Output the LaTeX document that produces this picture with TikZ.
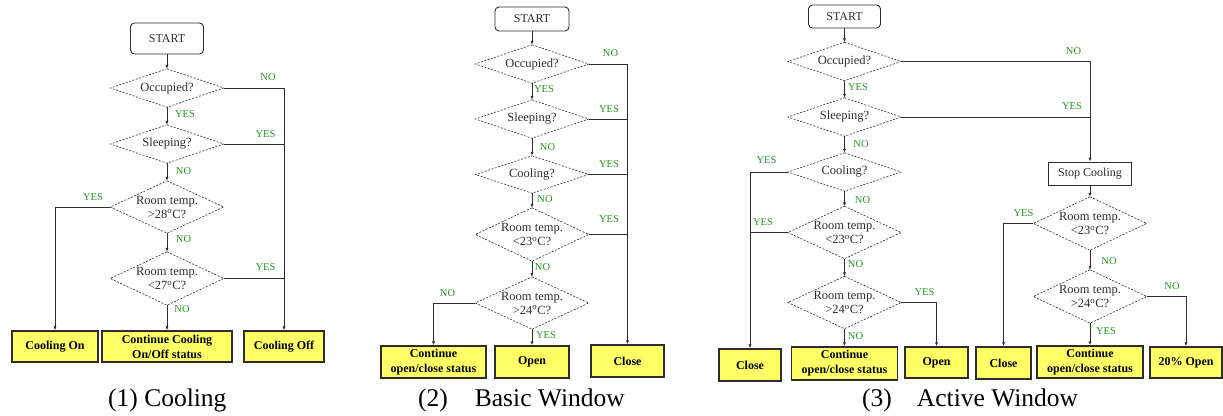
\documentclass[tikz,border=0pt]{standalone}
\usepackage{fontspec}
\setmainfont{Liberation Serif}
\usetikzlibrary{arrows.meta}
\definecolor{labgreen}{RGB}{34,150,34}
\definecolor{boxyellow}{RGB}{255,255,102}
\definecolor{ink}{RGB}{45,45,45}

\tikzset{
  wh/.style 2 args={minimum width=#1pt, minimum height=#2pt},
  startbox/.style={draw=ink, rounded corners=4pt, line width=0.9pt, fill=white,
    font=\fontsize{12}{14}\selectfont, text=ink, inner sep=0pt},
  actbox/.style={draw=ink, line width=1pt, fill=white,
    font=\fontsize{12}{14}\selectfont, text=ink, inner sep=0pt},
  decision/.style={inner sep=0pt, align=center, text=ink,
    font=\fontsize{12.5}{14}\selectfont},
  decisionline/.style={draw=ink, dash pattern=on 2pt off 1.5pt, line width=0.6pt},
  outbox/.style={draw=ink, line width=1.4pt, fill=boxyellow, align=center,
    inner sep=0pt, font=\bfseries\fontsize{12}{15}\selectfont},
  yn/.style={text=labgreen, inner sep=0pt, font=\fontsize{10.5}{12}\selectfont},
  flow/.style={draw=ink, line width=0.9pt},
  arrowflow/.style={flow, -{Latex[length=4pt,width=3.2pt]}},
  captiontext/.style={inner sep=0pt, anchor=base west,
    font=\fontsize{25.5}{30}\selectfont},
}

\begin{document}
\begin{tikzpicture}[x=1pt, y=-1pt]
\useasboundingbox (0,0) rectangle (1223,415);

% ---------------- (1) Cooling ----------------
\node[startbox, wh={73}{31}] (st1) at (167,38.5) {START};
\node[decision, wh={113}{38}] (occ1) at (167,88) {Occupied?};
\node[decision, wh={113}{38}] (sl1) at (167,144) {Sleeping?};
\node[decision, wh={113}{52}] (hi1) at (167,207) {Room temp.\\>28\textsuperscript{o}C?};
\node[decision, wh={113}{53}] (lo1) at (167,278.5) {Room temp.\\<27\textsuperscript{o}C?};
\node[outbox, wh={86}{31}] (on1) at (55,346.5) {Cooling On};
\node[outbox, wh={130}{31}] (cont1) at (167,346.5) {Continue Cooling\\On/Off status};
\node[outbox, wh={80}{31}] (off1) at (284,346.5) {Cooling Off};

\draw[arrowflow] (st1.south) -- (occ1.north);
\draw[arrowflow] (occ1.south) -- (sl1.north);
\draw[arrowflow] (sl1.south) -- (hi1.north);
\draw[arrowflow] (hi1.south) -- (lo1.north);
\draw[arrowflow] (lo1.south) -- (cont1.north);
\draw[arrowflow] (occ1.east) -| (off1.north);
\draw[flow] (sl1.east) -- (sl1.east -| off1.north);
\draw[flow] (lo1.east) -- (lo1.east -| off1.north);
\draw[arrowflow] (hi1.west) -| (on1.north);

\node[yn] (n1a) at (268,77) {NO};
\node[yn] (y1a) at (185,114) {YES};
\node[yn] (y1b) at (265.5,134) {YES};
\node[yn] (n1b) at (183.5,171) {NO};
\node[yn] (y1c) at (93,197) {YES};
\node[yn] (n1c) at (183.5,239) {NO};
\node[yn] (y1d) at (265.5,267) {YES};
\node[yn] (n1d) at (182,309) {NO};

\node[captiontext] (cap1) at (108,406) {(1) Cooling};

% ---------------- (2) Basic Window ----------------
\node[startbox, wh={74}{24}] (st2) at (532,19) {START};
\node[decision, wh={113}{38}] (occ2) at (532,64) {Occupied?};
\node[decision, wh={113}{38}] (sl2) at (532,119) {Sleeping?};
\node[decision, wh={113}{37}] (co2) at (532,174.5) {Cooling?};
\node[decision, wh={113}{53}] (lo2) at (532,234.5) {Room temp.\\<23\textsuperscript{o}C?};
\node[decision, wh={113}{52}] (hi2) at (532,303) {Room temp.\\>24\textsuperscript{o}C?};
\node[outbox, wh={105}{32}] (cont2) at (433.5,362) {Continue\\open/close status};
\node[outbox, wh={74}{32}] (open2) at (532,362) {Open};
\node[outbox, wh={73}{32}] (close2) at (627.5,361) {Close};

\draw[arrowflow] (st2.south) -- (occ2.north);
\draw[arrowflow] (occ2.south) -- (sl2.north);
\draw[arrowflow] (sl2.south) -- (co2.north);
\draw[arrowflow] (co2.south) -- (lo2.north);
\draw[arrowflow] (lo2.south) -- (hi2.north);
\draw[arrowflow] (hi2.south) -- (open2.north);
\draw[arrowflow] (occ2.east) -| (close2.north);
\draw[flow] (sl2.east) -- (sl2.east -| close2.north);
\draw[flow] (co2.east) -- (co2.east -| close2.north);
\draw[flow] (lo2.east) -- (lo2.east -| close2.north);
\draw[arrowflow] (hi2.west) -| (cont2.north);

\node[yn] (n2a) at (610.5,53) {NO};
\node[yn] (y2a) at (544,89) {YES};
\node[yn] (y2b) at (609,109) {YES};
\node[yn] (n2b) at (547.5,147) {NO};
\node[yn] (y2c) at (609,164) {YES};
\node[yn] (n2c) at (545,199) {NO};
\node[yn] (y2d) at (609,219) {YES};
\node[yn] (n2d) at (542.5,267) {NO};
\node[yn] (n2e) at (447.5,293) {NO};
\node[yn] (y2e) at (546,335) {YES};

\node[captiontext] (cap2) at (418,406) {(2)\hspace{27pt}Basic Window};

% ---------------- (3) Active Window ----------------
\node[startbox, wh={72}{23}] (st3) at (844.5,16.5) {START};
\node[decision, wh={113}{38}] (occ3) at (844.5,61.5) {Occupied?};
\node[decision, wh={113}{38}] (sl3) at (844.5,117) {Sleeping?};
\node[decision, wh={113}{38}] (co3) at (844.5,172) {Cooling?};
\node[decision, wh={113}{52}] (lo3) at (844.5,232.5) {Room temp.\\<23\textsuperscript{o}C?};
\node[decision, wh={113}{52}] (hi3) at (844.5,302.5) {Room temp.\\>24\textsuperscript{o}C?};
\node[outbox, wh={62}{32}] (close3) at (750,365) {Close};
\node[outbox, wh={106}{33}] (cont3) at (844.5,363.5) {Continue\\open/close status};
\node[outbox, wh={63}{31}] (open3) at (936.5,362.5) {Open};

\node[actbox, wh={83}{23}] (stop) at (1090,173.5) {Stop Cooling};
\node[decision, wh={113}{53}] (lo4) at (1090,223.5) {Room temp.\\<23\textsuperscript{o}C?};
\node[decision, wh={113}{53}] (hi4) at (1090,296.5) {Room temp.\\>24\textsuperscript{o}C?};
\node[outbox, wh={55}{32}] (close4) at (1003.5,363) {Close};
\node[outbox, wh={106}{32}] (cont4) at (1090,362) {Continue\\open/close status};
\node[outbox, wh={72}{31}] (pct4) at (1186,362.5) {20\% Open};

\draw[arrowflow] (st3.south) -- (occ3.north);
\draw[arrowflow] (occ3.south) -- (sl3.north);
\draw[arrowflow] (sl3.south) -- (co3.north);
\draw[arrowflow] (co3.south) -- (lo3.north);
\draw[arrowflow] (lo3.south) -- (hi3.north);
\draw[arrowflow] (hi3.south) -- (cont3.north);
\draw[arrowflow] (occ3.east) -| (stop.north);
\draw[flow] (sl3.east) -- (sl3.east -| stop.north);
\draw[arrowflow] (co3.west) -| (close3.north);
\draw[flow] (lo3.west) -- (lo3.west -| close3.north);
\draw[arrowflow] (hi3.east) -| (open3.north);

\draw[arrowflow] (stop.south) -- (lo4.north);
\draw[arrowflow] (lo4.south) -- (hi4.north);
\draw[arrowflow] (hi4.south) -- (cont4.north);
\draw[arrowflow] (lo4.west) -| (close4.north);
\draw[arrowflow] (hi4.east) -| (pct4.north);

\node[yn] (n3a) at (1073.5,51) {NO};
\node[yn] (y3a) at (858,87) {YES};
\node[yn] (y3b) at (1072,106) {YES};
\node[yn] (n3b) at (861,144) {NO};
\node[yn] (y3c) at (766.5,160) {YES};
\node[yn] (n3c) at (862.5,200) {NO};
\node[yn] (y3d) at (763,222) {YES};
\node[yn] (n3d) at (855.5,264) {NO};
\node[yn] (y3e) at (924.5,292) {YES};
\node[yn] (n3e) at (855.5,336) {NO};
\node[yn] (y4a) at (1023.5,213) {YES};
\node[yn] (n4a) at (1109,261) {NO};
\node[yn] (n4b) at (1172,286) {NO};
\node[yn] (y4b) at (1106,331) {YES};

\node[captiontext] (cap3) at (862,406) {(3)\hspace{25pt}Active Window};

% dashed outlines of the decision diamonds
\foreach \d in {occ1,sl1,hi1,lo1,occ2,sl2,co2,lo2,hi2,occ3,sl3,co3,lo3,hi3,lo4,hi4}
  \draw[decisionline] (\d.north) -- (\d.east) -- (\d.south) -- (\d.west) -- cycle;
\end{tikzpicture}
\end{document}
